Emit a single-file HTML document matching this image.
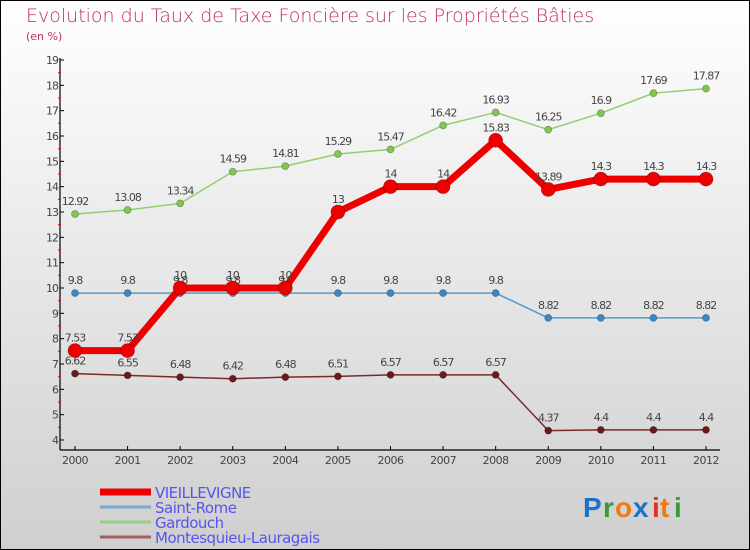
<!DOCTYPE html>
<html><head><meta charset="utf-8"><style>
html,body{margin:0;padding:0}
body{width:750px;height:550px;overflow:hidden}
svg{display:block;font-family:"DejaVu Sans","Liberation Sans",sans-serif}
</style></head><body>
<svg id="c" width="750" height="550">
<defs><linearGradient id="bg" x1="0" y1="0" x2="0" y2="1"><stop offset="0" stop-color="#ffffff"/><stop offset="1" stop-color="#cfcfcf"/></linearGradient></defs>
<rect x="0.5" y="0.5" width="749" height="549" fill="url(#bg)" stroke="#000"/>
<text x="26" y="22" font-size="19" fill="#c0305a" style="font-weight:200">Evolution du Taux de Taxe Foncière sur les Propriétés Bâties</text>
<text x="26" y="40" font-size="11" fill="#c0305a">(en %)</text>
<g id="axes"></g><g id="series"></g><g id="legend"></g>
<g font-size="28" font-weight="bold" font-family="Liberation Sans,sans-serif">
<text x="583" y="517" fill="#1a73c8">P</text><text x="603" y="517" fill="#3a9a3a">r</text><text x="615" y="517" fill="#f07a10">o</text><text x="633" y="517" fill="#1a73c8">x</text><text x="652" y="517" fill="#e03020">i</text><text x="660" y="517" fill="#f07a10">t</text><text x="674" y="517" fill="#3a9a3a">i</text>
</g>
</svg>
<script>
const years=[2000,2001,2002,2003,2004,2005,2006,2007,2008,2009,2010,2011,2012];
const vieillevigne=[7.53,7.53,10,10,10,13,14,14,15.83,13.89,14.3,14.3,14.3];
const saintRome=[9.8,9.8,9.8,9.8,9.8,9.8,9.8,9.8,9.8,8.82,8.82,8.82,8.82];
const gardouch=[12.92,13.08,13.34,14.59,14.81,15.29,15.47,16.42,16.93,16.25,16.9,17.69,17.87];
const montesquieu=[6.62,6.55,6.48,6.42,6.48,6.51,6.57,6.57,6.57,4.37,4.4,4.4,4.4];
const yTicks=[4,5,6,7,8,9,10,11,12,13,14,15,16,17,18,19];
const names=["VIEILLEVIGNE","Saint-Rome","Gardouch","Montesquieu-Lauragais"];
const NS="http://www.w3.org/2000/svg";
const X=i=>75+i*(706-75)/(years.length-1);
const Y=v=>440-(v-4)*(440-60)/15;
function mk(tag,attrs,parent){const e=document.createElementNS(NS,tag);for(const k in attrs)e.setAttribute(k,attrs[k]);parent.appendChild(e);return e;}
const ax=document.getElementById('axes');
let e=mk('line',{x1:60,y1:58,x2:60,y2:450,stroke:'#000','stroke-width':1.2},ax);


e=mk('line',{x1:60,y1:450,x2:720,y2:450,stroke:'#000','stroke-width':1.2},ax);


yTicks.forEach(v=>{
  mk('line',{x1:60,y1:Y(v),x2:64,y2:Y(v),stroke:'#000'},ax);
  if(v<19) mk('line',{x1:58,y1:Y(v+0.5),x2:61,y2:Y(v+0.5),stroke:'#e00'},ax);
  const t=mk('text',{x:58,y:Y(v)+4,'font-size':11,fill:'#444','text-anchor':'end','letter-spacing':'-1'},ax);
  t.textContent=v;
  
  
});
years.forEach((yr,i)=>{
  mk('line',{x1:X(i),y1:446,x2:X(i),y2:450,stroke:'#000'},ax);
  const t=mk('text',{x:X(i),y:464,'font-size':11,fill:'#444','text-anchor':'middle','letter-spacing':'-0.5'},ax);
  t.textContent=yr;
  
  
});
const sg=document.getElementById('series');
function series(data,color,w,r,fill,name){
  const g=mk('g',{},sg);
  
  
  mk('polyline',{points:data.map((v,i)=>X(i)+','+Y(v)).join(' '),fill:'none',stroke:color,'stroke-width':w,'stroke-linejoin':'round'},g);
  data.forEach((v,i)=>{
    const c=mk('circle',{cx:X(i),cy:Y(v),r:r,fill:fill,stroke:'rgba(0,0,0,0.3)','stroke-width':0.8},g);
    
    
    const t=mk('text',{x:X(i),y:Y(v)-9,'font-size':11,fill:'#444','text-anchor':'middle','letter-spacing':'-1'},g);
    t.textContent=v;
    
    
  });
}
series(montesquieu,'#7a2a2a',1.5,3.5,'#6a1a1a','montesquieu-series');
series(saintRome,'#5a9ac8',1.5,3.5,'#3a88c8','saint-rome-series');
series(gardouch,'#90d070',1.5,3.5,'#80c850','gardouch-series');
series(vieillevigne,'#ee0000',7,7,'#ee0000','vieillevigne-series');
const lg=document.getElementById('legend');
const lcol=['#ee0000','#7aaad0','#98d080','#a06060'];const lw=[7,3,3,3];
names.forEach((n,i)=>{
  const y=492+i*15;
  const g=mk('g',{},lg);
  
  
  mk('line',{x1:100,y1:y,x2:151,y2:y,stroke:lcol[i],'stroke-width':lw[i]},g);
  const t=mk('text',{x:155,y:y+6,'font-size':15,fill:'#5555ee','letter-spacing':'-0.5'},g);
  t.textContent=n;
});
</script>
</body></html>
